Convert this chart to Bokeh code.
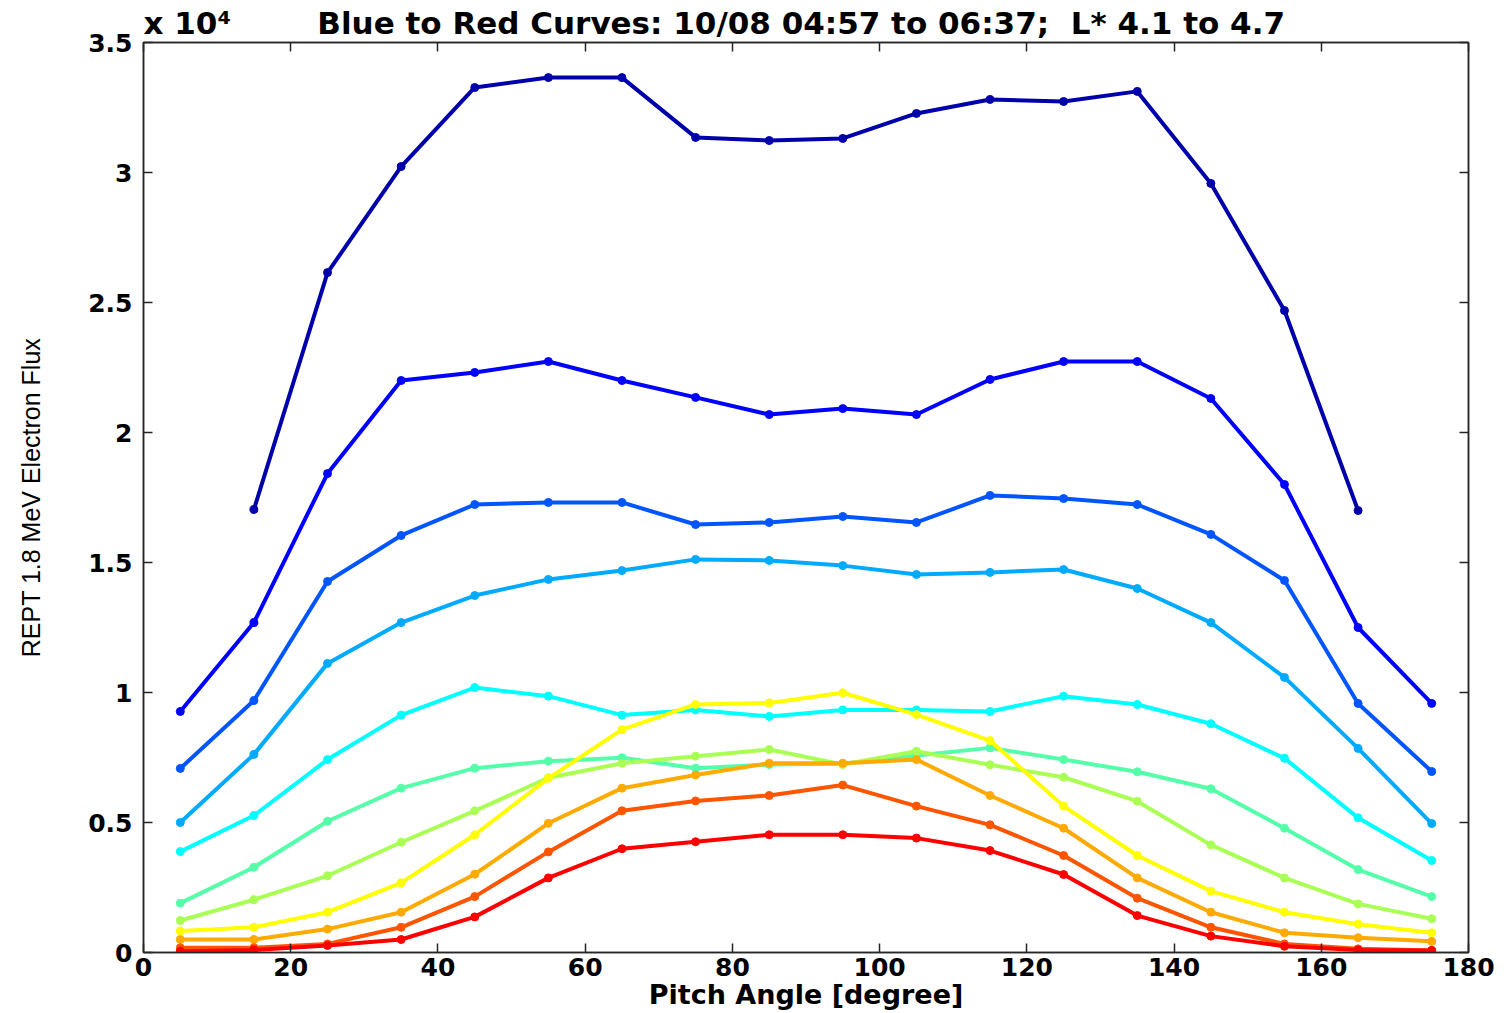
import math
from bokeh.plotting import figure
from bokeh.models import Range1d, LinearAxis, FixedTicker, CustomJSTickFormatter
from bokeh.embed import file_html
from bokeh.resources import INLINE

nan = float("nan")

# Pitch angle bins (degrees)
angles = [5, 15, 25, 35, 45, 55, 65, 75, 85, 95, 105, 115, 125, 135, 145, 155, 165, 175]

# Flux curves, blue (earliest) to red (latest)
flux_01 = [nan, 17040, 26150, 30230, 33270, 33650, 33650, 31350, 31230, 31310, 32270, 32810, 32730, 33120, 29580, 24690, 17000, nan]
flux_02 = [9270, 12690, 18420, 22000, 22310, 22730, 22000, 21350, 20690, 20920, 20690, 22040, 22730, 22730, 21310, 18000, 12500, 9580]
flux_03 = [7080, 9690, 14270, 16040, 17230, 17310, 17310, 16460, 16540, 16770, 16540, 17580, 17460, 17230, 16080, 14310, 9580, 6960]
flux_04 = [5000, 7620, 11120, 12690, 13730, 14350, 14690, 15120, 15080, 14880, 14540, 14620, 14730, 14000, 12690, 10580, 7850, 4960]
flux_05 = [3880, 5270, 7420, 9130, 10190, 9860, 9130, 9330, 9080, 9330, 9330, 9270, 9860, 9540, 8800, 7470, 5180, 3540]
flux_06 = [1900, 3280, 5050, 6320, 7090, 7360, 7490, 7090, 7230, 7260, 7580, 7870, 7420, 6950, 6300, 4780, 3190, 2150]
flux_07 = [1230, 2030, 2950, 4240, 5450, 6720, 7280, 7550, 7810, 7230, 7740, 7220, 6740, 5820, 4140, 2870, 1870, 1300]
flux_08 = [830, 970, 1550, 2680, 4530, 6700, 8570, 9540, 9600, 9990, 9150, 8150, 5630, 3730, 2360, 1550, 1090, 760]
flux_09 = [500, 500, 900, 1550, 3010, 4970, 6320, 6830, 7280, 7280, 7420, 6040, 4780, 2870, 1550, 760, 570, 430]
flux_10 = [180, 180, 330, 970, 2150, 3870, 5450, 5830, 6040, 6440, 5630, 4910, 3730, 2090, 970, 330, 140, 80]
flux_11 = [50, 100, 270, 500, 1370, 2870, 3990, 4260, 4530, 4530, 4400, 3920, 3000, 1420, 630, 240, 100, 80]

series = [flux_01, flux_02, flux_03, flux_04, flux_05, flux_06, flux_07, flux_08, flux_09, flux_10, flux_11]

# MATLAB jet(11)
colors = ["#0000AA", "#0000FF", "#0055FF", "#00AAFF", "#00FFFF", "#55FFAA",
          "#AAFF55", "#FFFF00", "#FFAA00", "#FF5500", "#FF0000"]

x_ticks = [0, 20, 40, 60, 80, 100, 120, 140, 160, 180]
y_ticks = [0, 5000, 10000, 15000, 20000, 25000, 30000, 35000]

NB = "\u00a0"
exponent_text = "x 10\u2074"
title_text = "Blue to Red Curves: 10/08 04:57 to 06:37;" + NB + " L* 4.1 to 4.7"
x_label = "Pitch Angle [degree]"
y_label = "REPT 1.8 MeV Electron Flux"

FONT = "DejaVu Sans"
AXC = "#262626"

p = figure(width=1507, height=1013, output_backend="svg", toolbar_location=None,
           x_range=Range1d(0, 180), y_range=Range1d(0, 35000),
           min_border_left=143, min_border_right=39, min_border_top=42, min_border_bottom=61,
           background_fill_color="white", border_fill_color="white")
p.grid.visible = False
p.outline_line_color = AXC
p.outline_line_width = 1.5

# Title row: exponent marker at the left, title text after it
p.title.text = exponent_text + NB * 8 + title_text
p.title.align = "left"
p.title.offset = 0
p.title.standoff = 4
p.title.text_font = FONT
p.title.text_font_style = "bold"
p.title.text_font_size = "31px"
p.title.text_color = "black"

def style_axis(ax, show_labels=True):
    ax.major_tick_in = 9
    ax.major_tick_out = 0
    ax.minor_tick_line_color = None
    ax.axis_line_color = AXC
    ax.axis_line_width = 1.5
    ax.major_tick_line_color = AXC
    ax.major_tick_line_width = 1.5
    if show_labels:
        ax.major_label_text_font = FONT
        ax.major_label_text_font_style = "bold"
        ax.major_label_text_font_size = "25px"
        ax.major_label_text_color = "black"
    else:
        ax.formatter = CustomJSTickFormatter(code="return '';")
        ax.major_label_text_font_size = "1px"
        ax.major_label_standoff = 0

xa = p.xaxis[0]
xa.ticker = FixedTicker(ticks=x_ticks)
style_axis(xa)
xa.major_label_standoff = 5
xa.axis_label = x_label
xa.axis_label_text_font = FONT
xa.axis_label_text_font_style = "bold"
xa.axis_label_text_font_size = "27px"
xa.axis_label_text_color = "black"
xa.axis_label_standoff = 0

ya = p.yaxis[0]
ya.ticker = FixedTicker(ticks=y_ticks)
ya.formatter = CustomJSTickFormatter(code="return (tick/1e4).toString();")
style_axis(ya)
ya.major_label_standoff = 11
ya.axis_label = y_label
ya.axis_label_text_font = "Liberation Sans"
ya.axis_label_text_font_style = "normal"
ya.axis_label_text_font_size = "25px"
ya.axis_label_text_color = "black"
ya.axis_label_standoff = 40

top = LinearAxis(ticker=FixedTicker(ticks=x_ticks))
style_axis(top, show_labels=False)
p.add_layout(top, "above")
right = LinearAxis(ticker=FixedTicker(ticks=y_ticks))
style_axis(right, show_labels=False)
p.add_layout(right, "right")

for ys, c in zip(series, colors):
    p.line(angles, ys, line_color=c, line_width=4, line_join="round", line_cap="round")
    p.scatter(angles, ys, size=8, fill_color=c, line_color=c)

open("out.html", "w").write(file_html(p, INLINE))
